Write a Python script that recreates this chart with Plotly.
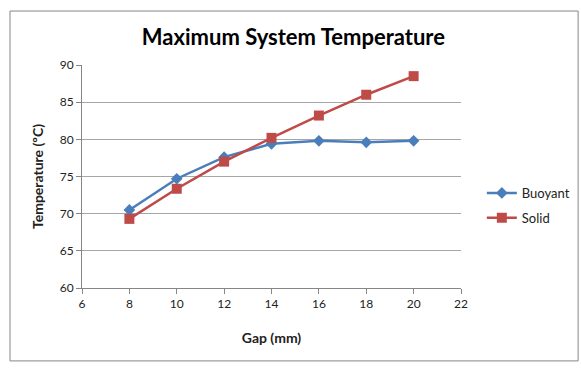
import plotly.graph_objects as go

gap = [8, 10, 12, 14, 16, 18, 20]
buoyant = [70.5, 74.7, 77.6, 79.4, 79.8, 79.6, 79.8]
solid = [69.3, 73.35, 77.0, 80.2, 83.2, 86.0, 88.5]

FONT = "Lato"

fig = go.Figure()
fig.add_trace(go.Scatter(x=gap, y=buoyant, name="Buoyant", mode="lines+markers",
                         legendgroup="b",
                         line=dict(color="#4A7EBB", width=2.5),
                         marker=dict(symbol="diamond", size=9, color="#4A7EBB")))
fig.add_trace(go.Scatter(x=gap, y=solid, name="Solid", mode="lines+markers",
                         legendgroup="s",
                         line=dict(color="#BE4B48", width=2.5),
                         marker=dict(symbol="square", size=10, color="#BE4B48")))

fig.update_layout(
    width=581, height=370,
    margin=dict(l=82, r=120, t=65, b=82, autoexpand=False),
    paper_bgcolor="white", plot_bgcolor="white",
    font=dict(family=FONT, color="#222222"),
    title=dict(text="<b>Maximum System Temperature</b>", x=0.505, xanchor="center",
               y=0.9, yanchor="middle", font=dict(size=22, color="black", family=FONT)),
    xaxis=dict(range=[6, 22], dtick=2, tick0=6, showgrid=False, showline=True,
               linecolor="#868686", linewidth=1, ticks="outside", ticklen=5,
               tickcolor="#868686", tickfont=dict(size=12), zeroline=False,
               title=dict(text="<b>Gap (mm)</b>", font=dict(size=14), standoff=22)),
    yaxis=dict(range=[60, 90], dtick=5, showgrid=True, gridcolor="#A6A6A6", gridwidth=1,
               showline=True, linecolor="#868686", linewidth=1, ticks="outside",
               ticklen=5, tickcolor="#868686", tickfont=dict(size=12), zeroline=False,
               title=dict(text="<b>Temperature (ºC)</b>", font=dict(size=14), standoff=12)),
    legend=dict(x=1.055, xanchor="left", y=0.37, yanchor="middle", font=dict(size=13),
                itemwidth=30, tracegroupgap=5, bgcolor="rgba(0,0,0,0)"),
    shapes=[dict(type="rect", xref="paper", yref="paper", x0=-0.19, x1=1.309,
                 y0=-0.327, y1=1.242, line=dict(color="#868686", width=1), layer="below")],
)

fig.write_html("out.html", config={"displayModeBar": False},
               post_script="document.body.style.margin='0';")
